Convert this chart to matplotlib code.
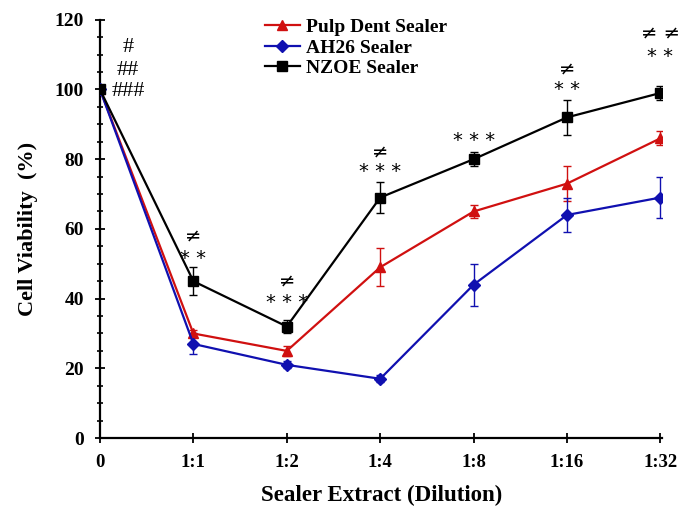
import matplotlib.pyplot as plt
from matplotlib.ticker import MultipleLocator

labels = ["0", "1:1", "1:2", "1:4", "1:8", "1:16", "1:32"]
x = list(range(len(labels)))

pulp = [100, 30, 25, 49, 65, 73, 86]
pulp_err = [0, 1, 1.5, 5.5, 2, 5, 2]
ah26 = [100, 27, 21, 17, 44, 64, 69]
ah26_err = [0, 3, 1, 1, 6, 5, 6]
nzoe = [100, 45, 32, 69, 80, 92, 99]
nzoe_err = [0, 4, 2, 4.5, 2, 5, 2]
names = ["Pulp Dent Sealer", "AH26 Sealer", "NZOE Sealer"]

# significance marks above the NZOE line: (x, text, y)
marks = [
    (1, "≠", 58), (1, "* *", 51.5),
    (2, "≠", 45), (2, "* * *", 39),
    (3, "≠", 82), (3, "* * *", 76.5),
    (4, "* * *", 85.5),
    (5, "≠", 106), (5, "* *", 100),
    (6, "≠ ≠", 116), (6, "* *", 109.5),
]
hash_marks = [("#", 112), ("##", 105.5), ("###", 99.5)]

plt.rcParams['font.family'] = ['Liberation Serif', 'DejaVu Serif']

fig = plt.figure(figsize=(6.8, 5.07), dpi=100)
ax = fig.add_axes([0.147, 0.136, 0.827, 0.825])

handles = []
for y, err, col, mk, ms, z in [
        (pulp, pulp_err, '#d01010', '^', 7, 3),
        (ah26, ah26_err, '#1010b0', 'D', 6, 3),
        (nzoe, nzoe_err, 'black', 's', 6.5, 4)]:
    eb = ax.errorbar(x, y, yerr=err, color=col, marker=mk, markersize=ms,
                     lw=1.6, capsize=3, elinewidth=1, zorder=z)
    handles.append(eb.lines[0])

for xi, txt, yi in marks:
    ax.text(xi, yi, txt, ha='center', va='center', fontsize=14,
            family=['DejaVu Sans'], style='italic' if '≠' in txt else 'normal')
for txt, yi in hash_marks:
    ax.text(0.3, yi, txt, ha='center', va='center', fontsize=16)

ax.set_xlim(0, 6.02)
ax.set_ylim(0, 120)
ax.set_xticks(x)
ax.set_xticklabels(labels, fontweight='bold', fontsize=13.5)
ax.yaxis.set_major_locator(MultipleLocator(20))
ax.yaxis.set_minor_locator(MultipleLocator(5))
for lab in ax.get_yticklabels():
    lab.set_fontweight('bold')
    lab.set_fontsize(14)
ax.tick_params(axis='both', which='major', direction='inout', length=7, width=1.3, pad=8)
ax.tick_params(axis='y', which='minor', direction='inout', length=5, width=1.2)
ax.spines['top'].set_visible(False)
ax.spines['right'].set_visible(False)
ax.spines['left'].set_linewidth(1.6)
ax.spines['bottom'].set_linewidth(1.6)

ax.set_xlabel("Sealer Extract (Dilution)", fontweight='bold', fontsize=16.5, labelpad=10)
ax.set_ylabel("Cell Viability  (%)", fontweight='bold', fontsize=16, labelpad=12)

ax.legend(handles, names, loc='upper center',
          bbox_to_anchor=(0.455, 1.045), frameon=False,
          prop={'weight': 'bold', 'size': 14}, handlelength=1.8,
          handletextpad=0.3, labelspacing=0.15)

fig.savefig("out.png", dpi=100)
